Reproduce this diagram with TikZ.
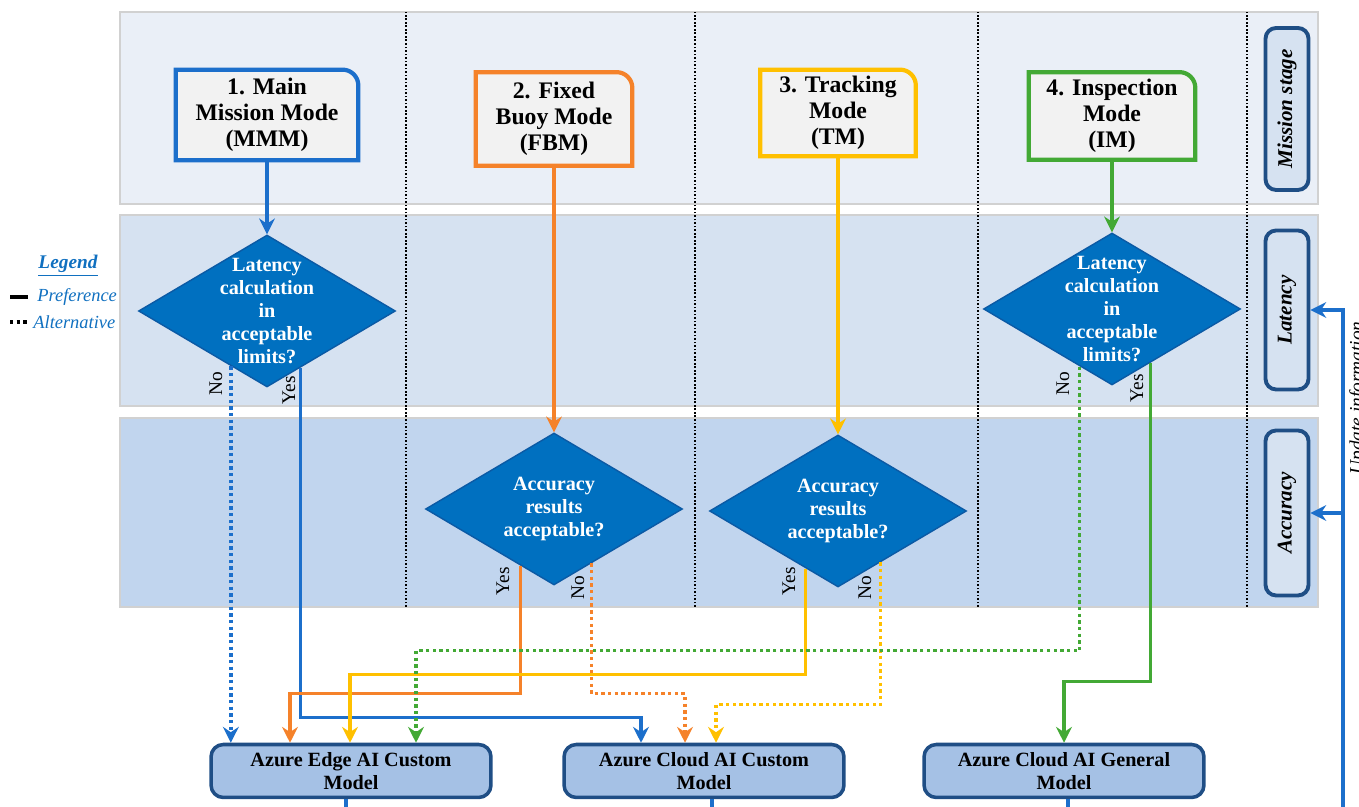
\documentclass[tikz,border=0pt]{standalone}
\usepackage{fontspec}
\setmainfont{Liberation Serif}
\usetikzlibrary{arrows.meta, shapes.geometric, calc, backgrounds}

\definecolor{cblue}{HTML}{1C6FCB}
\definecolor{corange}{HTML}{F5822A}
\definecolor{cyellow}{HTML}{FFC000}
\definecolor{cgreen}{HTML}{43A935}
\definecolor{diafill}{HTML}{0070C0}
\definecolor{diadraw}{HTML}{0B5AA5}
\definecolor{bandA}{HTML}{EAEFF7}
\definecolor{bandB}{HTML}{D6E2F1}
\definecolor{bandC}{HTML}{C1D5EE}
\definecolor{navy}{HTML}{1F4E85}
\definecolor{modelfill}{HTML}{A5C1E5}
\definecolor{legtxt}{HTML}{1070C0}

\begin{document}
\begin{tikzpicture}[x=0.02cm, y=0.02cm,
  band/.style={draw=black!18, line width=0.6pt},
  sep/.style={line width=1pt, dash pattern=on 1pt off 1pt},
  stagebox/.style={draw=navy, fill=bandB, line width=2.2pt, rounded corners=6pt, minimum width=0.86cm, inner sep=0pt, font=\fontsize{12}{14}\selectfont\bfseries\itshape},
  mode/.style={align=center, inner sep=0pt, font=\fontsize{13.5}{14.7}\selectfont\bfseries},
  modeframe/.style={line width=2.4pt, fill=black!5},
  dia/.style={diamond, fill=diafill, draw=diadraw, line width=0.8pt, minimum width=5.14cm, minimum height=3.04cm, inner sep=0pt},
  diatext/.style={text=white, align=center, font=\fontsize{11.5}{13}\selectfont\bfseries},
  model/.style={draw=navy, fill=modelfill, line width=2pt, rounded corners=7pt, minimum width=5.6cm, minimum height=1.06cm, align=center, inner sep=0pt, font=\fontsize{11.5}{13}\selectfont\bfseries},
  arr/.style={-{Stealth[length=9pt, width=9pt, inset=3pt]}, line width=1.9pt},
  altln/.style={arr, dash pattern=on 1.9pt off 1.9pt},
  yn/.style={rotate=90, inner sep=0pt, font=\fontsize{11}{13}\selectfont},
  leg/.style={text=legtxt, inner sep=0pt, font=\fontsize{10.5}{12}\selectfont\itshape}
]
\useasboundingbox (0,0) rectangle (1359,807);

\begin{scope}[on background layer]
\path[band, fill=bandA] (120,603) rectangle (1318,795);
\path[band, fill=bandB] (120,401) rectangle (1318,592);
\path[band, fill=bandC] (120,200) rectangle (1318,389);
\foreach \x in {406,695,978,1247}
  \draw[sep] (\x,200) -- (\x,795);
\end{scope}

\node[stagebox, minimum height=3.24cm] (mis) at (1287,698) {\rotatebox{90}{Mission stage}};
\node[stagebox, minimum height=3.18cm] (lat) at (1287,497) {\rotatebox{90}{Latency}};
\node[stagebox, minimum height=3.3cm] (acc) at (1287,294) {\rotatebox{90}{Accuracy}};

\node[mode, minimum width=3.64cm, minimum height=1.8cm] (m1) at (267,692) {1. Main\\Mission Mode\\(MMM)};
\node[mode, minimum width=3.12cm, minimum height=1.86cm] (m2) at (554,688) {2. Fixed\\Buoy Mode\\(FBM)};
\node[mode, minimum width=3.1cm, minimum height=1.72cm] (m3) at (838,694) {3. Tracking\\Mode\\(TM)};
\node[mode, minimum width=3.32cm, minimum height=1.74cm] (m4) at (1112,691) {4. Inspection\\Mode\\(IM)};

\begin{scope}[on background layer]
\foreach \m/\c in {m1/cblue, m2/corange, m3/cyellow, m4/cgreen}
  \draw[modeframe, draw=\c] (\m.south west) -- (\m.north west) -- ([xshift=-9pt]\m.north east)
    arc[start angle=90, end angle=0, radius=9pt] -- (\m.south east) -- cycle;
\end{scope}

\node[dia, label={[diatext]center:{Latency\\calculation\\in\\acceptable\\limits?}}] (d1) at (267,496) {};
\node[dia, label={[diatext]center:{Accuracy\\results\\acceptable?}}] (d2) at (554,298) {};
\node[dia, label={[diatext]center:{Accuracy\\results\\acceptable?}}] (d3) at (838,296) {};
\node[dia, label={[diatext]center:{Latency\\calculation\\in\\acceptable\\limits?}}] (d4) at (1112,498) {};

\node[model] (b1) at (351,36) {Azure Edge AI Custom\\Model};
\node[model] (b2) at (704,36) {Azure Cloud AI Custom\\Model};
\node[model] (b3) at (1064,36) {Azure Cloud AI General\\Model};

\coordinate (d1no) at ($(d1.south)!0.28!(d1.west)$);
\coordinate (d1yes) at ($(d1.south)!0.26!(d1.east)$);
\coordinate (d2yes) at ($(d2.south)!0.26!(d2.west)$);
\coordinate (d2no) at ($(d2.south)!0.29!(d2.east)$);
\coordinate (d3yes) at ($(d3.south)!0.25!(d3.west)$);
\coordinate (d3no) at ($(d3.south)!0.33!(d3.east)$);
\coordinate (d4no) at ($(d4.south)!0.25!(d4.west)$);
\coordinate (d4yes) at ($(d4.south)!0.3!(d4.east)$);

\draw[arr, cblue] (m1) -- (d1);
\draw[arr, corange] (m2) -- (d2);
\draw[arr, cyellow] (m3) -- (d3);
\draw[arr, cgreen] (m4) -- (d4);

\draw[altln, cblue] (d1no) -- (d1no |- b1.north);
\draw[arr, cblue] (d1yes) |- ($(b2.north)+(-63,25)$) -- ($(b2.north)+(-63,0)$);
\draw[arr, corange] (d2yes) |- ($(b1.north)+(-61,49)$) -- ($(b1.north)+(-61,0)$);
\draw[altln, corange] (d2no) |- ($(b2.north)+(-19,49)$) -- ($(b2.north)+(-19,0)$);
\draw[arr, cyellow] (d3yes) |- ($(b1.north)+(-1,68)$) -- ($(b1.north)+(-1,0)$);
\draw[altln, cyellow] (d3no) |- ($(b2.north)+(12,38)$) -- ($(b2.north)+(12,0)$);
\draw[altln, cgreen] (d4no) |- ($(b1.north)+(65,92)$) -- ($(b1.north)+(65,0)$);
\draw[arr, cgreen] (d4yes) |- ($(b3.north)+(0,61)$) -- (b3.north);

\node[yn] (d1nolab) at (216,423) {No};
\node[yn] (d1yeslab) at (289,417) {Yes};
\node[yn] (d2yeslab) at (503,226) {Yes};
\node[yn] (d2nolab) at (578,219) {No};
\node[yn] (d3yeslab) at (789,226) {Yes};
\node[yn] (d3nolab) at (865,219) {No};
\node[yn] (d4nolab) at (1063,423) {No};
\node[yn] (d4yeslab) at (1137,419) {Yes};

\draw[cblue, line width=1.9pt] ($(b1.south)+(-5,0)$) -- ++(0,-20);
\draw[cblue, line width=1.9pt] ($(b2.south)+(8,0)$) -- ++(0,-20);
\draw[cblue, line width=1.9pt] ($(b3.south)+(4,0)$) -- ++(0,-20);

\coordinate (upd) at (1343,-10);
\draw[arr, cblue] (upd) |- (lat.east);
\draw[arr, cblue] (upd |- acc.east) -- (acc.east);
\node[rotate=90, inner sep=0pt, font=\fontsize{11}{13}\selectfont\itshape] (updtxt) at (1358,409) {Update information};

\node[leg, font=\fontsize{11}{12}\selectfont\bfseries\itshape] (legend) at (68,541) {\underline{Legend}};
\node[leg, anchor=west] (lpref) at (37,510) {Preference};
\node[leg, anchor=west] (lalt) at (33,485) {Alternative};
\draw[line width=1.9pt] ($(lpref.west)+(-27,0)$) -- ++(18,0);
\draw[line width=1.9pt, dash pattern=on 1.9pt off 1.9pt] ($(lalt.west)+(-23,0)$) -- ++(18,0);
\end{tikzpicture}
\end{document}
